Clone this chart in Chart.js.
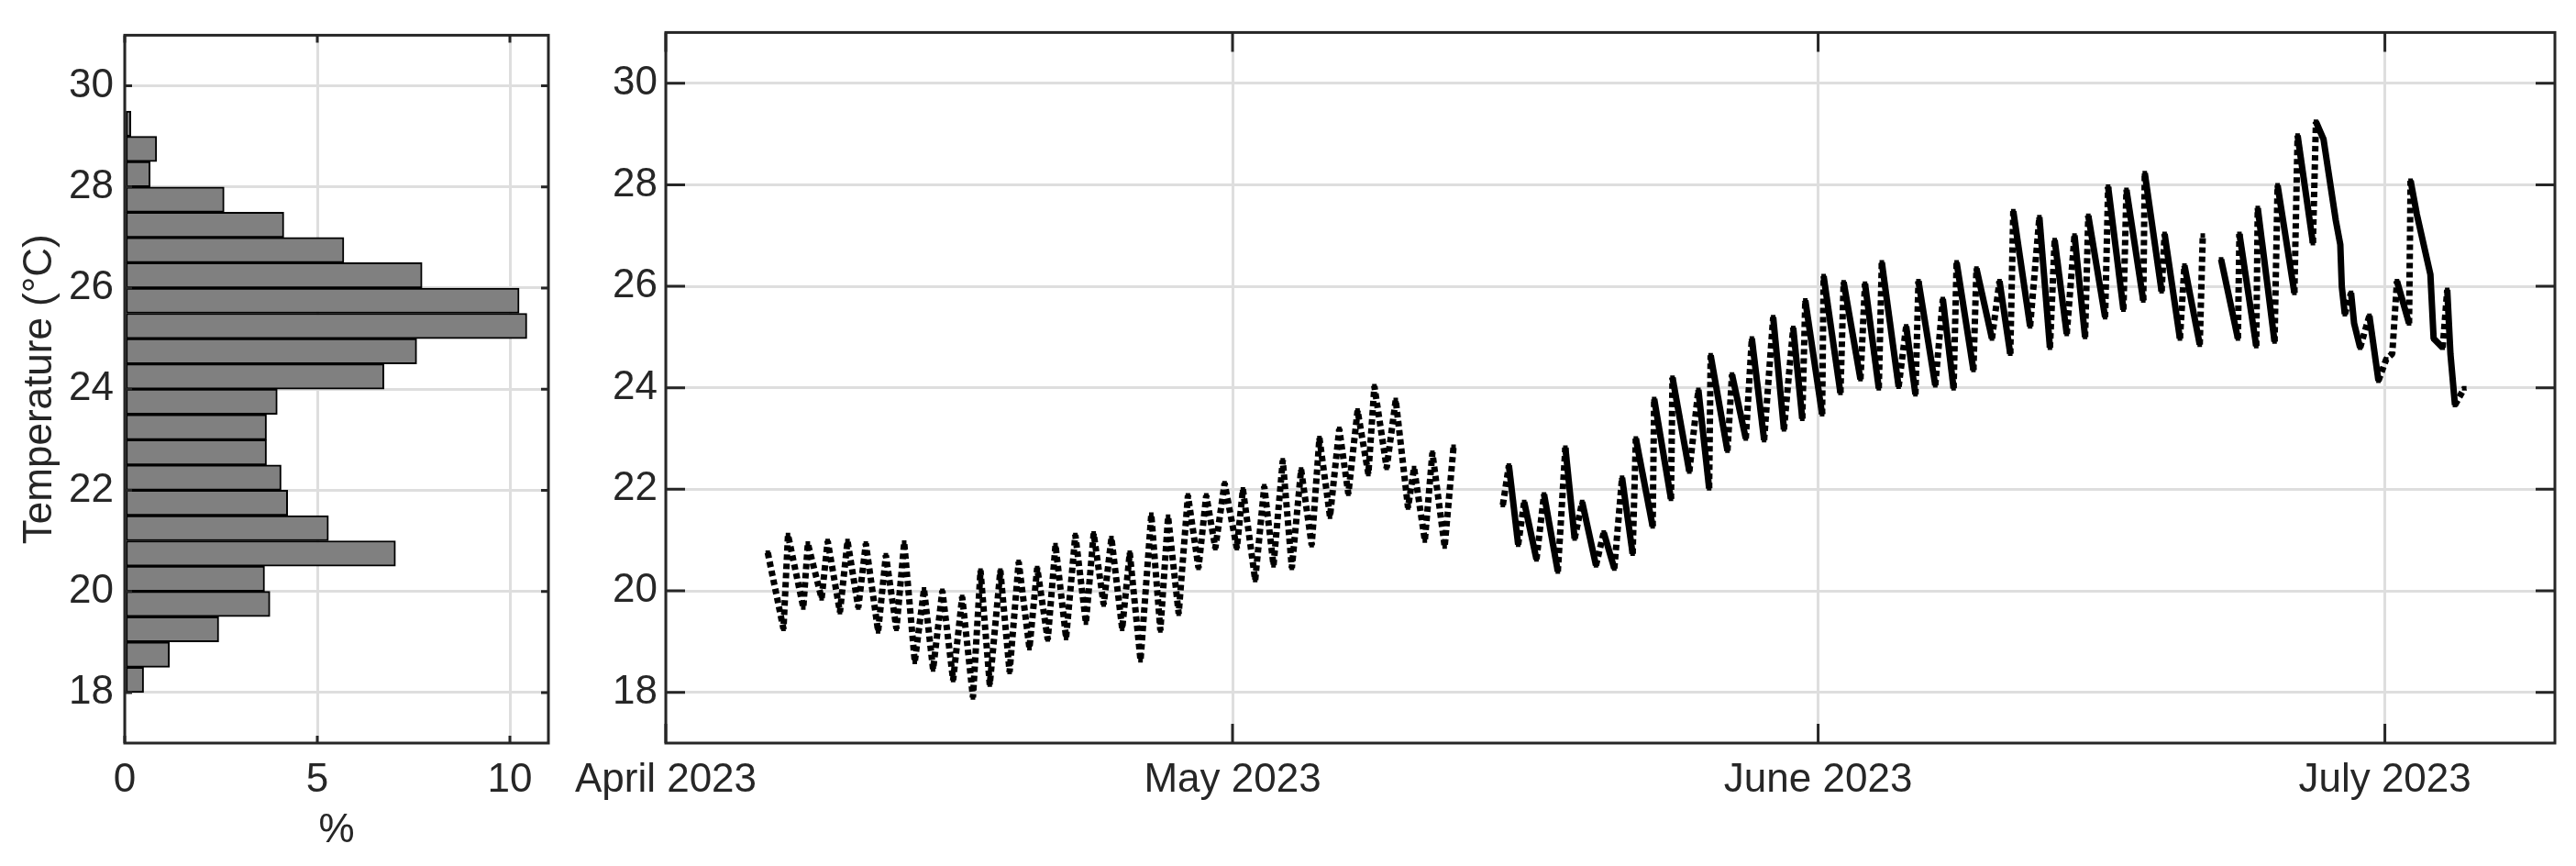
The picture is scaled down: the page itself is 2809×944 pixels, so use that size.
<!DOCTYPE html>
<html lang="en">
<head>
  <meta charset="UTF-8">
  <title>Temperature distribution and time series</title>
  <script src="https://cdn.jsdelivr.net/npm/chart.js"></script>
  <style>
    body { margin: 0; background: #ffffff; }
    #wrap { position: relative; width: 2809px; height: 944px; }
    canvas { position: absolute; top: 0; }
    #histChart { left: 0; }
    #tempChart { left: 600px; }
  </style>
</head>
<body>
  <div id="wrap">
    <canvas id="histChart" width="640" height="944"></canvas>
    <canvas id="tempChart" width="2209" height="944"></canvas>
  </div>

  <script>
    // Histogram (left panel): 0.5 °C bins
    const binCenters = [18.25, 18.75, 19.25, 19.75, 20.25, 20.75, 21.25, 21.75, 22.25, 22.75, 23.25, 23.75,
                        24.25, 24.75, 25.25, 25.75, 26.25, 26.75, 27.25, 27.75, 28.25, 28.75, 29.25];
    const histPercent = [0.49, 1.16, 2.44, 3.77, 3.63, 7.03, 5.29, 4.23, 4.06, 3.68, 3.68, 3.96,
                         6.73, 7.58, 10.44, 10.24, 7.72, 5.69, 4.13, 2.58, 0.66, 0.83, 0.16];
    const histTicks = [0, 5, 10];
    const tempTicks = [18, 20, 22, 24, 26, 28, 30];

    // Time series (right panel): x = days since 1 April 2023
    const monthTickDays = [0, 30, 61, 91];
    const monthTickLabels = ['April 2023', 'May 2023', 'June 2023', 'July 2023'];

    const aprMayDays = [5.40, 6.23, 6.47, 7.28, 7.52, 8.25, 8.57, 9.22, 9.62, 10.19, 10.59, 11.24, 11.65, 12.21,
      12.62, 13.18, 13.67, 14.15, 14.64, 15.21, 15.69, 16.26, 16.66, 17.15, 17.71, 18.20, 18.68, 19.25, 19.66,
      20.22, 20.63, 21.19, 21.68, 22.24, 22.65, 23.18, 23.59, 24.16, 24.56, 25.13, 25.70, 26.18, 26.59, 27.15,
      27.64, 28.20, 28.61, 29.09, 29.58, 30.23, 30.55, 31.20, 31.68, 32.17, 32.66, 33.14, 33.63, 34.19, 34.60,
      35.16, 35.65, 36.13, 36.62, 37.19, 37.51, 38.16, 38.64, 39.29, 39.61, 40.18, 40.58, 41.23, 41.70];
    const aprMayTemps = [20.75, 19.25, 21.10, 19.67, 20.93, 19.85, 20.98, 19.58, 20.98, 19.67, 20.93, 19.20, 20.70, 19.25,
      20.95, 18.60, 20.03, 18.45, 20.00, 18.24, 19.88, 17.90, 20.40, 18.15, 20.40, 18.40, 20.57, 18.87, 20.45,
      19.04, 20.90, 19.07, 21.10, 19.37, 21.13, 19.73, 21.04, 19.25, 20.75, 18.63, 21.50, 19.22, 21.46, 19.55,
      21.88, 20.45, 21.88, 20.84, 22.12, 20.84, 22.00, 20.21, 22.06, 20.50, 22.57, 20.45, 22.39, 20.90, 23.01,
      21.46, 23.19, 21.91, 23.55, 22.30, 24.03, 22.42, 23.76, 21.64, 22.42, 20.99, 22.72, 20.87, 22.84];

    const mayJulDays = [44.31, 44.63, 45.12, 45.44, 46.09, 46.49, 47.22, 47.62, 48.11, 48.51, 49.24, 49.65, 50.21,
      50.62, 51.18, 51.35, 52.24, 52.32, 53.21, 53.29, 54.18, 54.66, 55.23, 55.31, 56.20, 56.44, 57.17, 57.49,
      58.14, 58.62, 59.19, 59.68, 60.16, 60.32, 61.21, 61.29, 62.18, 62.35, 63.24, 63.48, 64.21, 64.37, 65.26,
      65.66, 66.15, 66.31, 67.20, 67.60, 68.17, 68.33, 69.22, 69.38, 70.20, 70.60, 71.17, 71.33, 72.22, 72.71,
      73.27, 73.52, 74.16, 74.57, 75.13, 75.30, 76.19, 76.35, 77.16, 77.32, 78.21, 78.29, 79.18, 79.34, 80.15,
      80.39, 81.20, 81.36, 81.80, 82.33, 83.22, 83.30, 84.19, 84.27, 85.16, 85.32, 86.21, 86.38, 87.19, 87.35,
      87.75, 88.40, 88.64, 88.72, 88.88, 89.21, 89.37, 89.69, 90.18, 90.66, 91.07, 91.39, 91.64, 92.28, 92.36,
      92.69, 93.41, 93.58, 94.06, 94.30, 94.47, 94.71, 95.20];
    const mayJulTemps = [21.69, 22.47, 20.91, 21.75, 20.62, 21.90, 20.38, 22.82, 21.03, 21.75, 20.50, 21.15, 20.44,
      22.23, 20.73, 23.00, 21.27, 23.78, 21.81, 24.20, 22.35, 23.96, 22.02, 24.64, 22.76, 24.26, 23.00, 24.97,
      22.97, 25.39, 23.18, 25.18, 23.39, 25.72, 23.48, 26.20, 23.90, 26.08, 24.17, 26.05, 23.99, 26.47, 24.02,
      25.21, 23.87, 26.10, 24.05, 25.75, 23.99, 26.47, 24.35, 26.35, 24.97, 26.10, 24.67, 27.48, 25.21, 27.36,
      24.79, 26.91, 25.06, 27.00, 25.00, 27.39, 25.39, 27.96, 25.54, 27.90, 25.72, 28.23, 25.90, 27.03, 24.97,
      26.41, 24.85, 27.00, null, 26.53, 24.97, 27.03, 24.82, 27.54, 24.91, 27.99, 25.87, 28.97, 26.85, 29.24,
      28.90, 27.30, 26.82, 25.99, 25.45, 25.87, 25.27, 24.79, 25.42, 24.14, 24.56, 24.67, 26.10, 25.27, 28.08,
      27.42, 26.23, 24.97, 24.79, 25.93, 24.67, 23.66, 23.99];

    const INK = '#262626';
    const GRID = '#dedede';
    Chart.defaults.font.family = '"Liberation Sans", Arial, sans-serif';
    Chart.defaults.font.size = 44;
    Chart.defaults.color = INK;
    Chart.defaults.animation = false;

    // axes box with inward tick marks on all four sides (MATLAB look)
    const boxTicks = {
      id: 'boxTicks',
      afterDraw(chart, args, opts) {
        const { ctx, chartArea: a, scales: { x, y } } = chart;
        ctx.save();
        ctx.strokeStyle = INK;
        ctx.lineWidth = 3;
        ctx.beginPath();
        x.ticks.forEach(t => {
          const px = x.getPixelForValue(t.value);
          ctx.moveTo(px, a.bottom); ctx.lineTo(px, a.bottom - opts.len);
          ctx.moveTo(px, a.top); ctx.lineTo(px, a.top + opts.len);
        });
        y.ticks.forEach(t => {
          const py = y.getPixelForValue(t.value);
          ctx.moveTo(a.left, py); ctx.lineTo(a.left + opts.len, py);
          ctx.moveTo(a.right, py); ctx.lineTo(a.right - opts.len, py);
        });
        ctx.stroke();
        ctx.strokeRect(a.left, a.top, a.right - a.left, a.bottom - a.top);
        ctx.restore();
      }
    };

    const gridOpts = { color: GRID, lineWidth: 3, drawTicks: false, offset: false };

    // Left panel: horizontal histogram
    new Chart(document.getElementById('histChart'), {
      type: 'bar',
      data: {
        datasets: [{
          data: binCenters.map((c, i) => ({ x: histPercent[i], y: c })),
          backgroundColor: '#808080',
          borderColor: '#000000',
          borderWidth: 2,
          borderSkipped: false,
          barPercentage: 1,
          categoryPercentage: 1
        }]
      },
      options: {
        indexAxis: 'y',
        responsive: false,
        layout: { padding: { top: 31, right: 42, left: 0, bottom: 0 } },
        plugins: { legend: { display: false }, tooltip: { enabled: false }, boxTicks: { len: 8 } },
        scales: {
          x: {
            type: 'linear', min: 0, max: 11, offset: false,
            grid: gridOpts, border: { display: false },
            afterBuildTicks: s => { s.ticks = histTicks.map(v => ({ value: v })); },
            afterFit: s => { s.height = 134; },
            ticks: { padding: 14, maxRotation: 0, autoSkip: false },
            title: { display: true, text: '%', padding: { top: 0, bottom: 12 } }
          },
          y: {
            type: 'linear', min: 17, max: 31, offset: false,
            grid: gridOpts, border: { display: false },
            afterBuildTicks: s => { s.ticks = tempTicks.map(v => ({ value: v })); },
            afterFit: s => { s.width = 136; },
            ticks: { padding: 12, autoSkip: false },
            title: { display: true, text: 'Temperature (°C)', padding: { top: 17, bottom: 0 } }
          }
        }
      },
      plugins: [boxTicks]
    });

    // Right panel: temperature over time
    const lineStyle = {
      showLine: true,
      borderColor: '#000000',
      backgroundColor: '#000000',
      borderWidth: 7,
      borderJoinStyle: 'bevel',
      pointStyle: 'rect',
      pointRadius: 3.5,
      pointBorderWidth: 0,
      spanGaps: false
    };

    new Chart(document.getElementById('tempChart'), {
      type: 'scatter',
      data: {
        datasets: [
          Object.assign({
            data: aprMayDays.map((d, i) => ({ x: d, y: aprMayTemps[i] })),
            borderDash: [6, 4]
          }, lineStyle),
          Object.assign({
            data: mayJulDays.map((d, i) => ({ x: d, y: mayJulTemps[i] })),
            borderDash: [],
            segment: { borderDash: c => (c.p1.parsed.y > c.p0.parsed.y ? [6, 4] : undefined) }
          }, lineStyle)
        ]
      },
      options: {
        responsive: false,
        layout: { padding: { top: 31, right: 23, left: 0, bottom: 0 } },
        plugins: { legend: { display: false }, tooltip: { enabled: false }, boxTicks: { len: 21 } },
        scales: {
          x: {
            type: 'linear', min: 0, max: 100,
            grid: gridOpts, border: { display: false },
            afterBuildTicks: s => { s.ticks = monthTickDays.map(v => ({ value: v })); },
            afterFit: s => { s.height = 134; },
            ticks: {
              padding: 14, maxRotation: 0, autoSkip: false,
              callback: v => monthTickLabels[monthTickDays.indexOf(v)]
            }
          },
          y: {
            type: 'linear', min: 17, max: 31,
            grid: gridOpts, border: { display: false },
            afterBuildTicks: s => { s.ticks = tempTicks.map(v => ({ value: v })); },
            afterFit: s => { s.width = 126; },
            ticks: { padding: 9, autoSkip: false }
          }
        }
      },
      plugins: [boxTicks]
    });
  </script>
</body>
</html>
